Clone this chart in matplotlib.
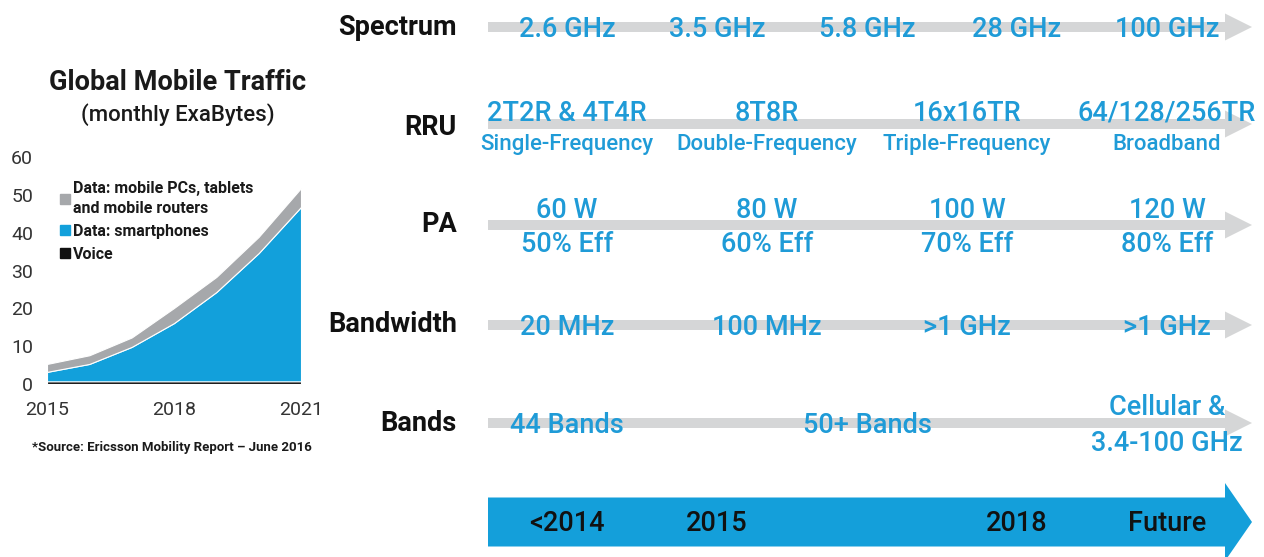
import matplotlib
matplotlib.use("Agg")
import matplotlib.pyplot as plt
from matplotlib.patches import FancyArrow
from matplotlib.lines import Line2D

# ---------------- data ----------------
years = [2015, 2016, 2017, 2018, 2019, 2020, 2021]
voice = [0.7, 0.7, 0.7, 0.7, 0.7, 0.7, 0.7]
smartphones = [2.5, 4.6, 9.1, 15.4, 23.6, 33.9, 46.1]
pcs_tablets = [2.1, 2.3, 2.5, 4.0, 4.0, 4.3, 5.0]
series_labels = ["Data: mobile PCs, tablets\nand mobile routers", "Data: smartphones", "Voice"]
y_ticks = [0, 10, 20, 30, 40, 50, 60]
x_ticks = [2015, 2018, 2021]

row_labels = ["Spectrum", "RRU", "PA", "Bandwidth", "Bands"]
spectrum_values = ["2.6 GHz", "3.5 GHz", "5.8 GHz", "28 GHz", "100 GHz"]
rru_config = ["2T2R & 4T4R", "8T8R", "16x16TR", "64/128/256TR"]
rru_freq = ["Single-Frequency", "Double-Frequency", "Triple-Frequency", "Broadband"]
pa_power = ["60 W", "80 W", "100 W", "120 W"]
pa_eff = ["50% Eff", "60% Eff", "70% Eff", "80% Eff"]
bandwidth_values = ["20 MHz", "100 MHz", ">1 GHz", ">1 GHz"]
bands_values = ["44 Bands", "50+ Bands", "Cellular &\n3.4-100 GHz"]
timeline = ["<2014", "2015", "2018", "Future"]

# ---------------- style ----------------
BLUE_TXT = "#1f9bd7"
BLUE_ARROW = "#149fda"
GRAY_ARROW = "#d5d6d7"
CH_BLUE = "#12a0db"
CH_GRAY = "#a6a8ab"
plt.rcParams["font.family"] = ["Roboto", "DejaVu Sans"]

W, H = 1264, 557
fig = plt.figure(figsize=(W / 100, H / 100), dpi=100, facecolor="white")

# overlay axes in pixel coordinates
ov = fig.add_axes([0, 0, 1, 1])
ov.set_xlim(0, W)
ov.set_ylim(H, 0)
ov.axis("off")
ov.patch.set_alpha(0)
DY = 2.5  # vertical optical correction for text centres

# ---------------- left chart ----------------
ax_l, ax_r, ax_b, ax_t = 47, 301, 384, 157
ax = fig.add_axes([ax_l / W, (H - ax_b) / H, (ax_r - ax_l) / W, (ax_b - ax_t) / H])
ax.stackplot(years, voice, smartphones, pcs_tablets,
             colors=["#111111", CH_BLUE, CH_GRAY], edgecolor="white", linewidth=0.8)
ax.set_xlim(2015, 2021)
ax.set_ylim(0, 60)
ax.set_yticks(y_ticks)
ax.set_xticks(x_ticks)
ax.tick_params(axis="both", length=0, labelsize=14, labelcolor="#333333")
ax.tick_params(axis="y", pad=10)
ax.tick_params(axis="x", pad=12)
for s in ax.spines.values():
    s.set_visible(False)
ax.patch.set_alpha(0)

handles = [Line2D([], [], marker="s", ls="", color=c, ms=7.5) for c in [CH_GRAY, CH_BLUE, "#111111"]]
leg = ax.legend(handles, series_labels, loc="upper left", bbox_to_anchor=(0.045, 0.893),
                frameon=False, prop={"weight": "bold", "size": 11.5}, handletextpad=0.1,
                handlelength=0.8, labelspacing=0.5, borderaxespad=0, borderpad=0)
for t in leg.get_texts():
    t.set_linespacing(1.4)
    t.set_color("#1a1a1a")

ov.text(178, 80 + DY, "Global Mobile Traffic", ha="center", va="center", fontsize=19.5, fontweight="bold", color="#1a1a1a")
ov.text(178, 112 + DY, "(monthly ExaBytes)", ha="center", va="center", fontsize=16, fontweight="medium", color="#1a1a1a")
ov.text(172, 447 + 1, "*Source: Ericsson Mobility Report \u2013 June 2016", ha="center", va="center",
        fontsize=9.5, fontweight="bold", color="#1a1a1a")

# ---------------- right roadmap ----------------
x0, x_tip = 488, 1252
row_y = [27, 124, 225, 325, 423]
label_y = [25, 125, 222, 322, 421]
cols5 = [567 + 150 * i for i in range(5)]
cols4 = [567 + 200 * i for i in range(4)]

for ry in row_y:
    ov.add_patch(FancyArrow(x0, ry, x_tip - x0, 0, width=10, head_width=27, head_length=27,
                            length_includes_head=True, color=GRAY_ARROW, lw=0, zorder=1))

for lab, ly in zip(row_labels, label_y):
    ov.text(457, ly + DY, lab, ha="right", va="center", fontsize=19.5, fontweight="bold", color="#111111")

vkw = dict(ha="center", va="center", color=BLUE_TXT, fontweight="medium", zorder=3)
VS = 19.5
for x, t in zip(cols5, spectrum_values):
    ov.text(x, 27 + DY, t, fontsize=VS, **vkw)
for x, t, b in zip(cols4, rru_config, rru_freq):
    ov.text(x, 111 + DY, t, fontsize=VS, **vkw)
    ov.text(x, 142 + DY, b, fontsize=16, **vkw)
for x, t, b in zip(cols4, pa_power, pa_eff):
    ov.text(x, 208 + DY, t, fontsize=VS, **vkw)
    ov.text(x, 242 + DY, b, fontsize=VS, **vkw)
for x, t in zip(cols4, bandwidth_values):
    ov.text(x, 325 + DY, t, fontsize=VS, **vkw)
for x, t in zip([cols5[0], cols5[2], cols5[4]], bands_values):
    ov.text(x, 423 + DY, t, fontsize=VS, linespacing=1.4, **vkw)

# timeline arrow
ov.add_patch(FancyArrow(x0, 522, x_tip - x0, 0, width=49, head_width=78, head_length=27,
                        length_includes_head=True, color=BLUE_ARROW, lw=0, zorder=1))
for x, t in zip([cols5[0], cols5[1], cols5[3], cols5[4]], timeline):
    ov.text(x, 521 + DY, t, ha="center", va="center", fontsize=19.5, fontweight="medium", color="#111111", zorder=3)

fig.savefig("out.png", dpi=100, facecolor="white")
